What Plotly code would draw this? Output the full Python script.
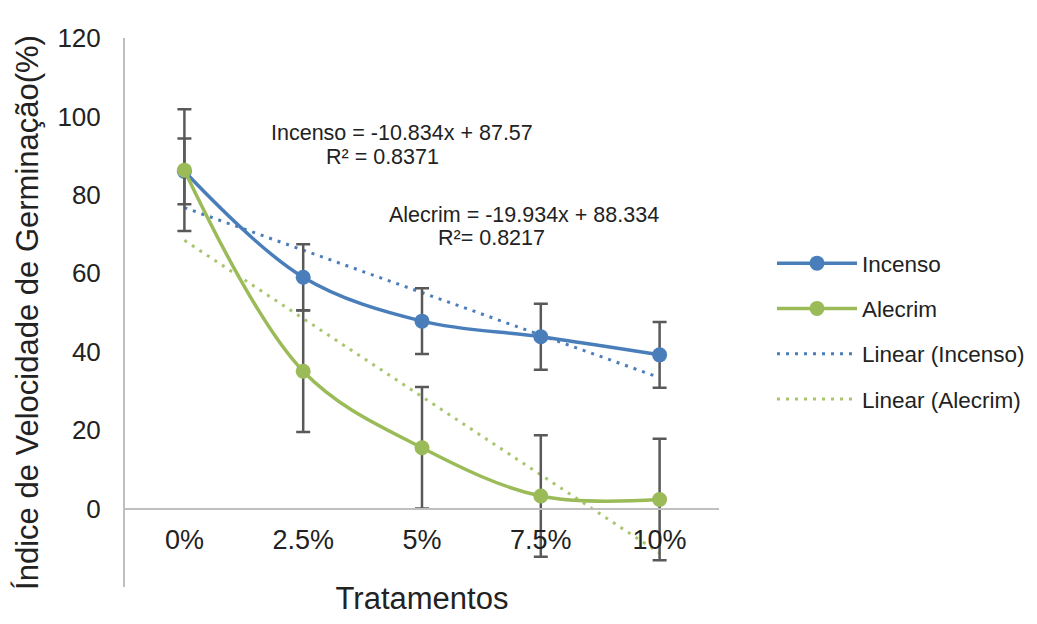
import plotly.graph_objects as go

categories = ["0%", "2.5%", "5%", "7.5%", "10%"]
incenso = [86.0, 59.0, 47.8, 43.8, 39.2]
incenso_err = [8.4, 8.4, 8.4, 8.4, 8.4]
alecrim = [86.3, 35.0, 15.5, 3.2, 2.3]
alecrim_err = [15.5, 15.5, 15.5, 15.5, 15.5]

# Linear trend equations as printed on the chart (x = category index 1..5)
incenso_slope, incenso_intercept = -10.834, 87.57
alecrim_slope, alecrim_intercept = -19.934, 88.334
incenso_r2 = "0.8371"
alecrim_r2 = "0.8217"

y_ticks = [0, 20, 40, 60, 80, 100, 120]

idx = list(range(1, len(categories) + 1))
incenso_trend = [incenso_slope * k + incenso_intercept for k in idx]
alecrim_trend = [alecrim_slope * k + alecrim_intercept for k in idx]

BLUE = "#4A7EBB"
GREEN = "#9BBB59"
GREEN_DOT = "#A9C66F"
ERR = "#595959"
AXIS = "#BFBFBF"
FONT = "Liberation Sans, Arial, sans-serif"
TXT = "#222222"

fig = go.Figure()

fig.add_trace(go.Scatter(
    x=categories, y=incenso_trend, mode="lines", name="Linear (Incenso)",
    line=dict(color=BLUE, width=3, dash="3px,6px"),
    legendrank=3, legendgroup="g3"))
fig.add_trace(go.Scatter(
    x=categories, y=alecrim_trend, mode="lines", name="Linear (Alecrim)",
    line=dict(color=GREEN_DOT, width=3, dash="3px,6px"),
    legendrank=4, legendgroup="g4"))

fig.add_trace(go.Scatter(
    x=categories, y=incenso, mode="lines+markers", name="Incenso",
    line=dict(color=BLUE, width=3.5, shape="spline", smoothing=1.0),
    marker=dict(color=BLUE, size=15),
    error_y=dict(type="data", array=incenso_err, visible=True,
                 color=ERR, thickness=2.5, width=7),
    legendrank=1, legendgroup="g1"))
fig.add_trace(go.Scatter(
    x=categories, y=alecrim, mode="lines+markers", name="Alecrim",
    line=dict(color=GREEN, width=3.5, shape="spline", smoothing=1.0),
    marker=dict(color=GREEN, size=15),
    error_y=dict(type="data", array=alecrim_err, visible=True,
                 color=ERR, thickness=2.5, width=7),
    legendrank=2, legendgroup="g2"))

# The page body has an 8px margin, so the figure is drawn 8px in from the corner.
OFF = 8
W, H = 1037 - 2 * OFF, 624 - 2 * OFF
# plot area in window pixels: x 125..719, y 38..587.5
L = 125 - OFF
R = W - (719 - OFF)
T = 38 - OFF
B = H - (587.5 - OFF)
pw = W - L - R
ph = H - T - B


def px(xs):
    return (xs - OFF - L) / pw


def py(ys):
    return (H - B - (ys - OFF)) / ph


ann_font = dict(size=21.5, color=TXT, family=FONT)
ann_common = dict(xref="paper", yref="paper", showarrow=False, font=ann_font,
                  xanchor="center", yanchor="middle")
fig.add_annotation(x=px(402), y=py(133),
                   text=f"Incenso = {incenso_slope}x + {incenso_intercept}", **ann_common)
fig.add_annotation(x=px(382), y=py(157), text=f"R² = {incenso_r2}", **ann_common)
fig.add_annotation(x=px(524), y=py(215),
                   text=f"Alecrim = {alecrim_slope}x + {alecrim_intercept}", **ann_common)
fig.add_annotation(x=px(491), y=py(238), text=f"R²= {alecrim_r2}", **ann_common)

zero_pos = (0 - (-20)) / (120 - (-20))

fig.update_layout(
    width=W, height=H,
    margin=dict(l=L, r=R, t=T, b=B, pad=0, autoexpand=False),
    paper_bgcolor="white", plot_bgcolor="white",
    font=dict(family=FONT, color=TXT),
    showlegend=True,
    legend=dict(x=(772 - OFF) / W, y=1 - (242 - OFF) / H,
                xref="container", yref="container",
                xanchor="left", yanchor="top",
                font=dict(size=22.5, color=TXT, family=FONT),
                itemwidth=80, tracegroupgap=13,
                bgcolor="rgba(0,0,0,0)"),
    xaxis=dict(
        type="category", range=[-0.5, 4.5],
        anchor="free", position=zero_pos, automargin=False,
        showline=True, linecolor=AXIS, linewidth=2,
        showgrid=False, zeroline=False, ticks="",
        tickfont=dict(size=27, color=TXT, family=FONT),
        ticklabelstandoff=7,
        title=dict(text="Tratamentos", font=dict(size=31, color=TXT, family=FONT),
                   standoff=37),
    ),
    yaxis=dict(
        range=[-20, 120], tickvals=y_ticks, automargin=False,
        showline=True, linecolor=AXIS, linewidth=2,
        showgrid=False, zeroline=False, ticks="",
        tickfont=dict(size=26, color=TXT, family=FONT),
        ticklabelstandoff=17,
        title=dict(text="Índice de Velocidade de Germinação(%)",
                   font=dict(size=31, color=TXT, family=FONT), standoff=10),
    ),
)

fig.write_html("out.html")
